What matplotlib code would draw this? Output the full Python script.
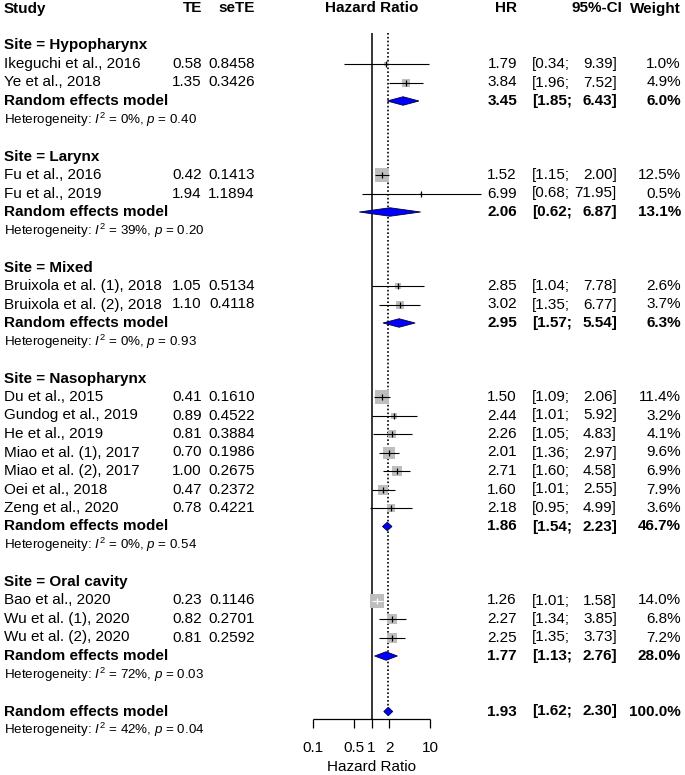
import numpy as np
import matplotlib.pyplot as plt
from matplotlib.patches import Polygon

plt.rcParams['font.family'] = ['Liberation Sans', 'DejaVu Sans']
plt.rcParams['mathtext.fontset'] = 'custom'
plt.rcParams['mathtext.rm'] = 'Liberation Sans'
plt.rcParams['mathtext.it'] = 'Liberation Sans:italic'
plt.rcParams['mathtext.bf'] = 'Liberation Sans:bold'

# data
sites = ["Hypopharynx", "Larynx", "Mixed", "Nasopharynx", "Oral cavity"]
studies = [
    ["Ikeguchi et al., 2016", "Ye et al., 2018"],
    ["Fu et al., 2016", "Fu et al., 2019"],
    ["Bruixola et al. (1), 2018", "Bruixola et al. (2), 2018"],
    ["Du et al., 2015", "Gundog et al., 2019", "He et al., 2019", "Miao et al. (1), 2017",
     "Miao et al. (2), 2017", "Oei et al., 2018", "Zeng et al., 2020"],
    ["Bao et al., 2020", "Wu et al. (1), 2020", "Wu et al. (2), 2020"],
]
te = [["0.58", "1.35"], ["0.42", "1.94"], ["1.05", "1.10"],
      ["0.41", "0.89", "0.81", "0.70", "1.00", "0.47", "0.78"],
      ["0.23", "0.82", "0.81"]]
sete = [["0.8458", "0.3426"], ["0.1413", "1.1894"], ["0.5134", "0.4118"],
        ["0.1610", "0.4522", "0.3884", "0.1986", "0.2675", "0.2372", "0.4221"],
        ["0.1146", "0.2701", "0.2592"]]
hr = [[1.79, 3.84], [1.52, 6.99], [2.85, 3.02],
      [1.50, 2.44, 2.26, 2.01, 2.71, 1.60, 2.18],
      [1.26, 2.27, 2.25]]
lower = [[0.34, 1.96], [1.15, 0.68], [1.04, 1.35],
         [1.09, 1.01, 1.05, 1.36, 1.60, 1.01, 0.95],
         [1.01, 1.34, 1.35]]
upper = [[9.39, 7.52], [2.00, 71.95], [7.78, 6.77],
         [2.06, 5.92, 4.83, 2.97, 4.58, 2.55, 4.99],
         [1.58, 3.85, 3.73]]
weight = [[1.0, 4.9], [12.5, 0.5], [2.6, 3.7],
          [11.4, 3.2, 4.1, 9.6, 6.9, 7.9, 3.6],
          [14.0, 6.8, 7.2]]
re_hr = [3.45, 2.06, 2.95, 1.86, 1.77]
re_lower = [1.85, 0.62, 1.57, 1.54, 1.13]
re_upper = [6.43, 6.87, 5.54, 2.23, 2.76]
re_weight = [6.0, 13.1, 6.3, 46.7, 28.0]
i2 = ["0%", "39%", "0%", "0%", "72%"]
pval = ["0.40", "0.20", "0.93", "0.54", "0.03"]
overall = [1.93, 1.62, 2.30, 100.0]
overall_het = ["42%", "0.04"]
ticks = [0.1, 0.5, 1, 2, 10]

W, H = 685, 775
fig = plt.figure(figsize=(W / 100, H / 100), dpi=100)

# rows: y_px = 45.5 + 18.5 * row
y0, dy = 45.5, 18.5
ylim = ((H - y0) / dy, -y0 / dy)

tax = fig.add_axes([0, 0, 1, 1])
tax.set_xlim(0, W)
tax.set_ylim(*ylim)
tax.axis('off')

x1, dec = 371.5, 58.7
fax = fig.add_axes([0, 0, 1, 1])
fax.set_xscale('log')
fax.set_xlim(10 ** (-x1 / dec), 10 ** ((W - x1) / dec))
fax.set_ylim(*ylim)
fax.axis('off')
fax.patch.set_alpha(0)

fs, fs_het = 11, 9.6
px_study, px_te, px_se = 4, 202, 255
px_hr, px_lo, px_up, px_w = 517, 532, 617, 681


def txt(x, r, s, ha='left', bold=False, size=fs):
    tax.text(x, r, s, ha=ha, va='center', fontsize=size,
             fontweight='bold' if bold else 'normal')


def stats(r, est, lo, up, w, bold=False):
    txt(px_hr, r, f"{est:.2f}", 'right', bold)
    txt(px_lo, r, f"[{lo:.2f};", 'left', bold)
    txt(px_up, r, f"{up:.2f}]", 'right', bold)
    txt(px_w, r, f"{w:.1f}%", 'right', bold)


def diamond(r, est, lo, up):
    h = 0.23
    fax.add_patch(Polygon([[lo, r], [est, r - h], [up, r], [est, r + h]],
                          closed=True, facecolor='#0000FF', edgecolor='#000033',
                          lw=0.6, zorder=4))


# header
hr_row = -2
txt(px_study, hr_row, "Study", bold=True)
txt(px_te, hr_row, "TE", 'right', True)
txt(px_se, hr_row, "seTE", 'right', True)
txt(x1, hr_row, "Hazard Ratio", 'center', True)
txt(px_hr, hr_row, "HR", 'right', True)
txt(px_up + 5, hr_row, "95%-CI", 'right', True)
txt(px_w, hr_row, "Weight", 'right', True)

r = 0
for g, site in enumerate(sites):
    txt(px_study, r, f"Site = {site}", bold=True)
    for k, name in enumerate(studies[g]):
        rr = r + 1 + k
        txt(px_study, rr, name)
        txt(px_te, rr, te[g][k], 'right')
        txt(px_se, rr, sete[g][k], 'right')
        stats(rr, hr[g][k], lower[g][k], upper[g][k], weight[g][k])
        side = 3.9 * np.sqrt(weight[g][k])
        fax.scatter([hr[g][k]], [rr], marker='s', s=(side * 0.72) ** 2,
                    color='#BEBEBE', linewidths=0, zorder=2)
        # CI drawn in white when it fits inside the box
        ci_px = dec * (np.log10(upper[g][k]) - np.log10(lower[g][k]))
        lc = 'white' if ci_px < side else 'black'
        fax.hlines(rr, lower[g][k], upper[g][k], color=lc, lw=0.8, zorder=3)
        fax.plot([hr[g][k]], [rr], marker='|', ms=4, mew=0.9, color=lc, zorder=3)
    rr = r + 1 + len(studies[g])
    txt(px_study, rr, "Random effects model", bold=True)
    stats(rr, re_hr[g], re_lower[g], re_upper[g], re_weight[g], True)
    diamond(rr, re_hr[g], re_lower[g], re_upper[g])
    txt(px_study, rr + 1, rf"Heterogeneity: $I^2$ = {i2[g]}, $p$ = {pval[g]}", size=fs_het)
    r = rr + 3

txt(px_study, r, "Random effects model", bold=True)
stats(r, overall[0], overall[1], overall[2], overall[3], True)
diamond(r, overall[0], overall[1], overall[2])
txt(px_study, r + 1, rf"Heterogeneity: $I^2$ = {overall_het[0]}, $p$ = {overall_het[1]}",
    size=fs_het)

# reference lines
top = -0.68
axis_row = 36.41
fax.vlines(1, top, axis_row, color='black', lw=1.1, zorder=1)
fax.vlines(overall[0], top, r - 0.23, color='black', lw=1.2,
           linestyles=(0, (1, 1.3)), zorder=1)

# x axis
fax.hlines(axis_row, ticks[0], ticks[-1], color='black', lw=0.9)
for t in ticks:
    fax.vlines(t, axis_row, axis_row + 0.49, color='black', lw=0.9)
    fax.text(t, 37.97, f"{t:g}", ha='center', va='center', fontsize=fs)
fax.text(1, 38.98, "Hazard Ratio", ha='center', va='center', fontsize=fs)

fig.savefig("out.png", dpi=100)
